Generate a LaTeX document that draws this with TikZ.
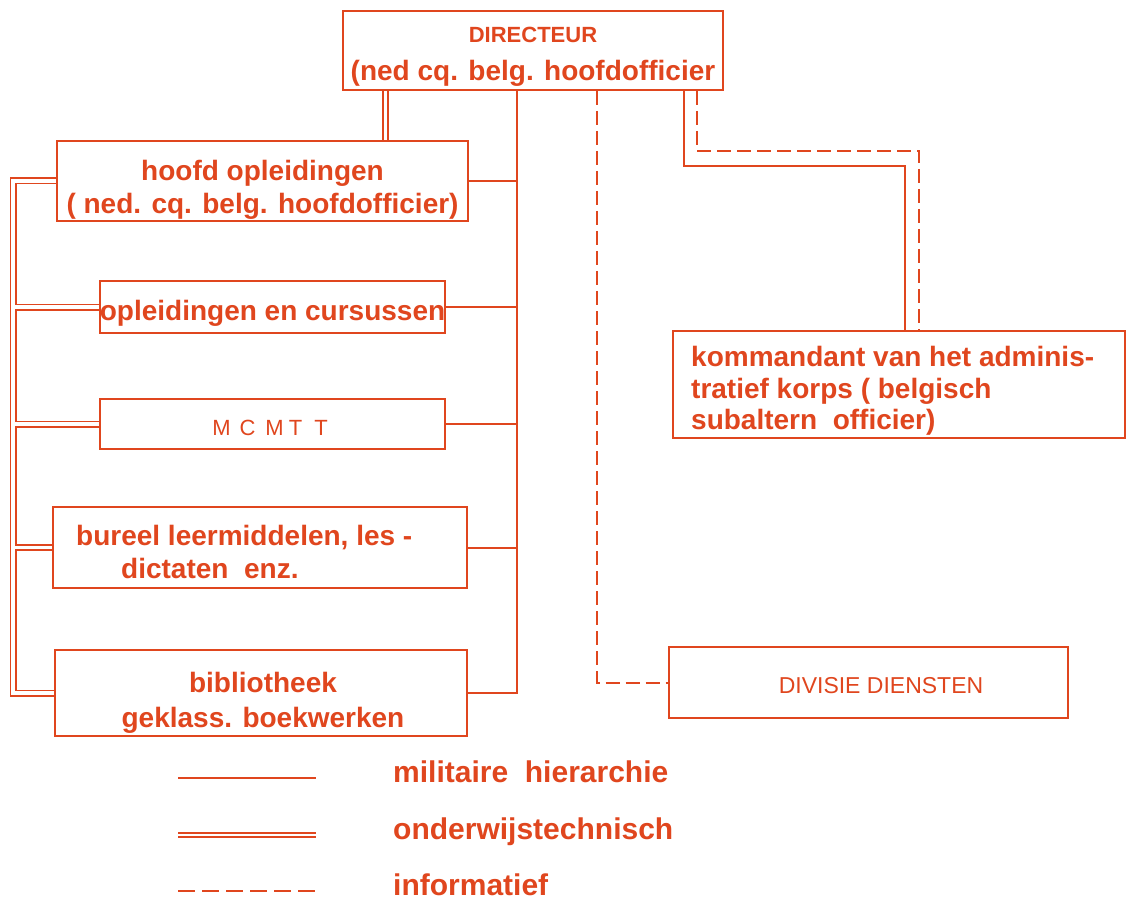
\documentclass[tikz,border=0pt]{standalone}
\usepackage{fontspec}
\setmainfont{Liberation Sans}
\pgfdeclarelayer{background}
\pgfsetlayers{background,main}
\definecolor{org}{RGB}{224,70,30}
\newcommand{\lblfont}{\fontsize{28}{33}\selectfont\bfseries}
\newcommand{\capfont}{\fontsize{22}{26}\selectfont}
\newcommand{\legfont}{\fontsize{30}{34}\selectfont\bfseries}
\begin{document}
\begin{tikzpicture}[x=1pt,y=-1pt,
  box/.style={draw=org, line width=2pt, fill=white, inner sep=0pt},
  txt/.style={text=org, align=center, font=\lblfont, inner sep=0pt},
  mil/.style={draw=org, line width=2pt},
  dbl/.style={draw=org, line width=1.8pt, double=white, double distance=3.4pt},
  inf/.style={draw=org, line width=2pt, dash pattern=on 14pt off 6pt},
  legtxt/.style={text=org, font=\legfont, inner sep=0pt, anchor=base west}]
\useasboundingbox (0,0) rectangle (1132,901);

% boxes
\node[box, minimum width=380pt, minimum height=79pt] (dir) at (533,50.5) {};
\node[box, minimum width=411pt, minimum height=80pt] (hoofd) at (262.5,181) {};
\node[box, minimum width=345pt, minimum height=52pt] (opl) at (272.5,307) {};
\node[box, minimum width=345pt, minimum height=50pt] (mc) at (272.5,424) {};
\node[box, minimum width=414pt, minimum height=81pt] (bur) at (260,547.5) {};
\node[box, minimum width=412pt, minimum height=86pt] (bib) at (261,693) {};
\node[box, minimum width=452pt, minimum height=107pt] (komm) at (899,384.5) {};
\node[box, minimum width=399pt, minimum height=71pt] (div) at (868.5,682.5) {};

% texts
\node[txt] (dir-t) at (533,57)
  {{\capfont DIRECTEUR}\\[5pt](ned cq. belg. hoofdofficier};
\node[txt] (hoofd-t) at (262.5,190)
  {hoofd opleidingen\\( ned. cq. belg. hoofdofficier)};
\node[txt] (opl-t) at (272.5,313) {opleidingen en cursussen};
\node[txt, font=\capfont] (mc-t) at (270,428)
  {M\hspace{9pt}C\hspace{10pt}M\hspace{5pt}T\hspace{12pt}T};
\node[txt, align=left, anchor=west] (bur-t) at (76,551.5)
  {bureel leermiddelen, les -\\\hspace*{45pt}dictaten\ \ enz.};
\node[txt, font=\fontsize{28}{35}\selectfont\bfseries] (bib-t) at (263,703)
  {bibliotheek\\geklass. boekwerken};
\node[txt, align=left, anchor=west, font=\fontsize{28}{31.5}\selectfont\bfseries] (komm-t) at (691,391)
  {kommandant van het adminis-\\tratief korps ( belgisch\\subaltern\ \ officier)};
\node[txt, font=\fontsize{23}{28}\selectfont] (div-t) at (881,686) {DIVISIE DIENSTEN};

% connector coordinates
\coordinate (dx) at (385.5,0);
\coordinate (bx) at (517,0);
\coordinate (lx) at (13,0);
\coordinate (dv) at (597,0);
\coordinate (ks) at (684,166);
\coordinate (ke) at (905,0);
\coordinate (ds) at (697,151);
\coordinate (de) at (919,0);

\begin{pgfonlayer}{background}
\fill[white] (0,0) rectangle (1132,901);
% onderwijstechnisch (double)
\draw[dbl] (dir.south -| dx) -- (hoofd.north -| dx);
\draw[dbl] (hoofd.west) -- (hoofd.west -| lx) -- (bib.west -| lx) -- (bib.west)
  (opl.west -| lx) -- (opl.west)
  (mc.west -| lx) -- (mc.west)
  (bur.west -| lx) -- (bur.west);
% militaire hierarchie (solid)
\draw[mil] (dir.south -| bx) |- (bib.east);
\draw[mil] (hoofd.east) -- (hoofd.east -| bx);
\draw[mil] (opl.east) -- (opl.east -| bx);
\draw[mil] (mc.east) -- (mc.east -| bx);
\draw[mil] (bur.east) -- (bur.east -| bx);
\draw[mil] (dir.south -| ks) -- (ks) -| (komm.north -| ke);
% informatief (dashed)
\draw[inf] (dir.south -| ds) -- (ds) -| (komm.north -| de);
\draw[inf] (dir.south -| dv) |- (div.west);
\end{pgfonlayer}

% legend
\coordinate (la1) at (178,778); \coordinate (lb1) at (316,778);
\coordinate (la2) at (178,835); \coordinate (lb2) at (316,835);
\coordinate (la3) at (178,891); \coordinate (lb3) at (316,891);
\draw[mil, line width=1.6pt] (la1) -- (lb1);
\draw[dbl, line width=1.5pt, double distance=2.2pt] (la2) -- (lb2);
\draw[mil, line width=1.6pt, dash pattern=on 17pt off 7pt] (la3) -- (lb3);
\node[legtxt] (t1) at (393,782) {militaire\ \ hierarchie};
\node[legtxt] (t2) at (393,839) {onderwijstechnisch};
\node[legtxt] (t3) at (393,895) {informatief};
\end{tikzpicture}
\end{document}
